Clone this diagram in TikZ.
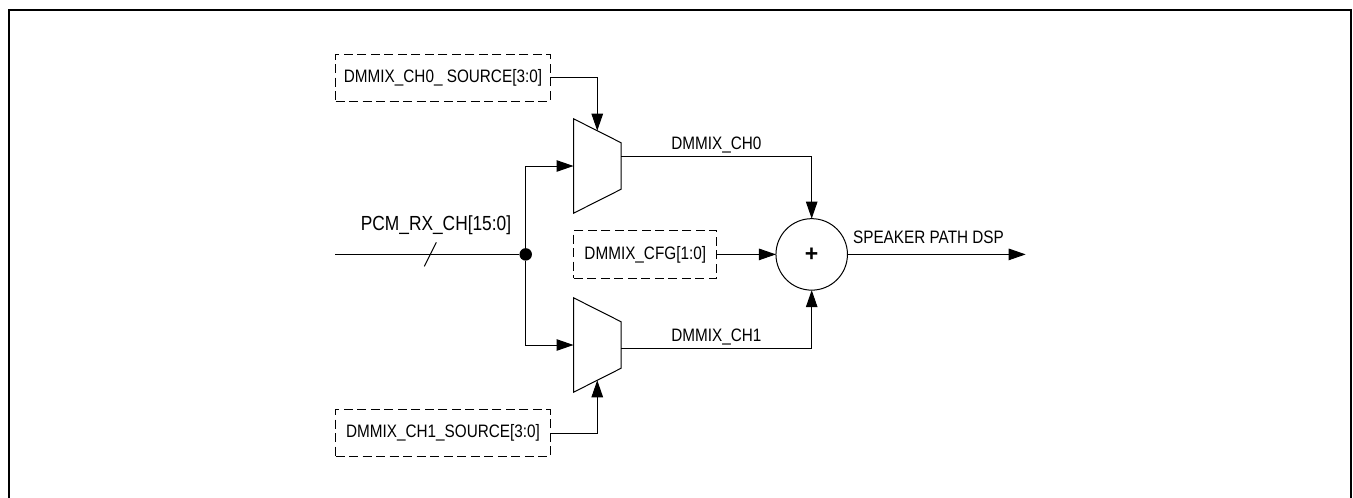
\documentclass[tikz,border=0pt]{standalone}
\usepackage{fontspec}
\setmainfont{Liberation Sans}
\newfontfamily\lblfont[FakeStretch=0.85]{Liberation Sans}
\usetikzlibrary{arrows.meta,positioning,calc,shapes.geometric}

\begin{document}
\begin{tikzpicture}[
  x=1pt, y=-1pt,
  line width=1pt,
  srcbox/.style={draw, dashed, dash pattern=on 9pt off 4.5pt, font=\lblfont\fontsize{18}{20}\selectfont,
                 align=center, outer sep=0pt, inner sep=0pt, minimum width=214.5pt, minimum height=47pt},
  cfgbox/.style={srcbox, minimum width=143pt, minimum height=47.5pt},
  muxbox/.style={draw, trapezium, trapezium stretches=true, trapezium angle=63.7, rotate=-90,
                 outer sep=0pt, inner sep=1pt, minimum width=94.5pt, minimum height=47.5pt},
  sumnode/.style={draw, circle, outer sep=0pt, inner sep=0pt, minimum size=71.5pt,
                  font=\bfseries\fontsize{23}{23}\selectfont},
  joinnode/.style={circle, fill=black, outer sep=0pt, inner sep=0pt, minimum size=12.5pt},
  arrow/.style={-{Triangle[length=17pt, width=11.5pt]}},
  lbl/.style={font=\lblfont\fontsize{18}{20}\selectfont, inner sep=0pt},
  buslbl/.style={font=\lblfont\fontsize{20.4}{22}\selectfont, inner sep=0pt},
]

\useasboundingbox (0,0) rectangle (1353,498);

%% ---- Outer frame ----
\draw[line width=2pt] (8.5,498) -- (8.5,10) -- (1350.5,10) -- (1350.5,498);

%% ---- Muxes and summing node ----
\node[muxbox] (mux0) at (597.25,166) {\phantom{x}};
\node[muxbox] (mux1) at (597.25,345) {\phantom{x}};
\node[sumnode] (sum) at (811.7,254.4) {+};

%% ---- Register boxes ----
\node[srcbox, left=23.25pt of mux0.south, yshift=88.5pt] (src0) {DMMIX\_CH0\_ SOURCE[3:0]};
\node[srcbox, left=23.25pt of mux1.south, yshift=-88pt] (src1) {DMMIX\_CH1\_SOURCE[3:0]};
\node[cfgbox, left=59.2pt of sum] (cfg) {DMMIX\_CFG[1:0]};

%% ---- Input bus ----
\coordinate (pcmin) at (335,254.4);
\node[joinnode] (join) at (525.7,254.4) {};
\draw (pcmin) -- (join);
\draw ($(pcmin)!0.5!(join)$) +(-6,12) -- +(6,-12);
\node[buslbl] (pcmlbl) at (436,225) {PCM\_RX\_CH[15:0]};

%% ---- Connections ----
\draw[arrow] (join) |- (mux0.south);
\draw[arrow] (join) |- (mux1.south);
\draw[arrow] (src0.east) -| (mux0.west);
\draw[arrow] (src1.east) -| (mux1.east);

\coordinate (out0) at (621,156);
\coordinate (out1) at (621,348.3);
\draw[arrow] (out0) -- node[lbl, pos=0.5, above=2.5pt] (ch0lbl) {DMMIX\_CH0} (sum.north |- out0) -- (sum.north);
\draw[arrow] (out1) -- node[lbl, pos=0.5, above=2.5pt] (ch1lbl) {DMMIX\_CH1} (sum.south |- out1) -- (sum.south);
\draw[arrow] (cfg.east) -- (sum.west);

\coordinate (spkout) at (1025.7,254.4);
\draw[arrow] (sum.east) -- (spkout);
\node[lbl] (spklbl) at (928.5,237) {SPEAKER PATH DSP};

\end{tikzpicture}
\end{document}
